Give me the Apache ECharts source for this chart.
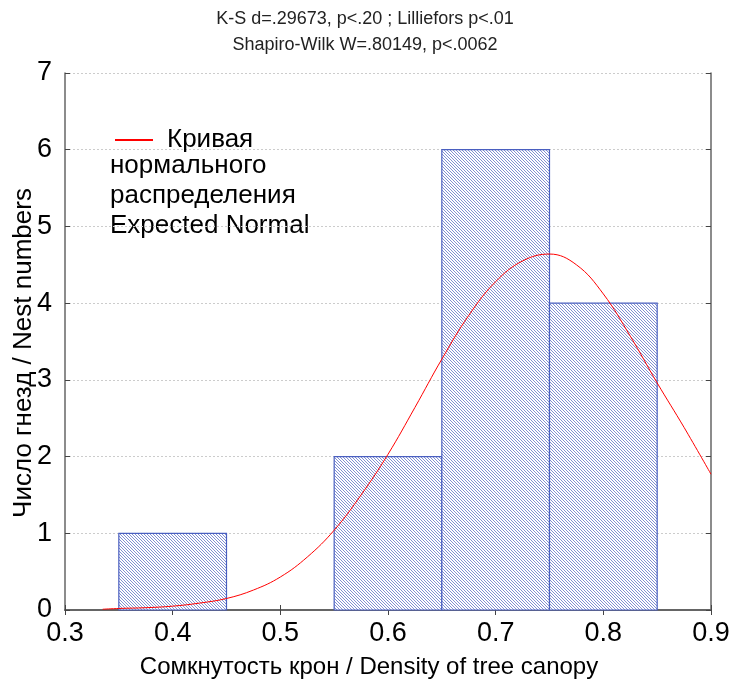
<!DOCTYPE html>
<html>
<head>
<meta charset="utf-8">
<script src="https://cdn.jsdelivr.net/npm/echarts@6/dist/echarts.min.js"></script>
<style>
  html, body { margin: 0; padding: 0; background: #fff; }
  #chart { width: 730px; height: 686px; }
</style>
</head>
<body>
<div id="chart"></div>
<script>
// гистограмма: начало интервала, конец, число гнезд
var binStart = [0.35, 0.55, 0.65, 0.75];
var binEnd = [0.45, 0.65, 0.75, 0.85];
var binCount = [1, 2, 6, 4];

// кривая нормального распределения
var curveX = [0.335, 0.35, 0.375, 0.4, 0.425, 0.45, 0.475, 0.5, 0.525, 0.55, 0.575, 0.6,
  0.625, 0.65, 0.675, 0.7, 0.725, 0.75, 0.775, 0.8, 0.825, 0.85, 0.875, 0.9];
var curveY = [0.01, 0.02, 0.03, 0.05, 0.09, 0.15, 0.26, 0.43, 0.69, 1.04, 1.50, 2.03,
  2.64, 3.27, 3.84, 4.28, 4.55, 4.64, 4.50, 4.12, 3.57, 2.96, 2.38, 1.77];

var xTicks = [0.3, 0.4, 0.5, 0.6, 0.7, 0.8, 0.9];
var yTicks = [0, 1, 2, 3, 4, 5, 6, 7];

var FONT = "Liberation Sans";

// штриховка столбцов
var hatch = document.createElement("canvas");
hatch.width = 3;
hatch.height = 3;
var hctx = hatch.getContext("2d");
hctx.fillStyle = "#ffffff";
hctx.fillRect(0, 0, 3, 3);
hctx.fillStyle = "#8290d2";
for (var i = 0; i < 3; i++) {
  hctx.fillRect(i, i, 1, 1);
}

var bins = binStart.map(function (s, i) {
  return [s, binEnd[i], binCount[i]];
});
var curve = curveX.map(function (x, i) {
  return [x, curveY[i]];
});

var myChart = echarts.init(document.getElementById("chart"));
var option = {
  animation: false,
  title: {
    text: "K-S d=.29673, p<.20 ; Lilliefors p<.01\nShapiro-Wilk W=.80149, p<.0062",
    left: "center",
    top: 1,
    textStyle: {
      fontFamily: FONT,
      fontSize: 18,
      fontWeight: "normal",
      color: "#222",
      lineHeight: 26
    }
  },
  grid: { left: 65, right: 19, top: 73, bottom: 76, containLabel: false, outerBoundsMode: "none" },
  legend: {
    left: 110,
    top: 122,
    itemWidth: 38,
    itemHeight: 2,
    itemGap: 0,
    data: [{ name: "Кривая", icon: "rect" }],
    textStyle: { fontFamily: FONT, fontSize: 26, color: "#000", padding: [0, 0, 0, 9] }
  },
  graphic: [
    {
      type: "text",
      left: 110,
      top: 151,
      style: {
        text: "нормального\nраспределения\nExpected Normal",
        font: "26px " + FONT,
        fill: "#000",
        lineHeight: 30
      }
    },
    {
      // подпись оси Y
      type: "text",
      x: 24,
      y: 353,
      rotation: Math.PI / 2,
      style: {
        text: "Число гнезд / Nest numbers",
        font: "26px " + FONT,
        fill: "#000",
        align: "center",
        verticalAlign: "middle"
      }
    }
  ],
  xAxis: [
    {
      type: "value",
      min: 0.3,
      max: 0.9,
      interval: 0.1,
      name: "Сомкнутость крон / Density of tree canopy",
      nameLocation: "middle",
      nameGap: 45,
      nameTextStyle: { fontFamily: FONT, fontSize: 24, color: "#000", padding: [0, 38, 0, 0] },
      axisLine: { show: true, lineStyle: { color: "#666", width: 2 } },
      axisTick: { show: true, inside: true, length: 5, lineStyle: { color: "#444" } },
      axisLabel: {
        fontFamily: FONT,
        fontSize: 27,
        color: "#000",
        margin: 10,
        formatter: function (v) { return v.toFixed(1); }
      },
      splitLine: { show: false }
    },
    {
      type: "value",
      position: "top",
      min: 0.3,
      max: 0.9,
      interval: 0.1,
      axisLine: { show: true, lineStyle: { color: "#666", width: 1.5 } },
      axisTick: { show: true, inside: true, length: 5, lineStyle: { color: "#444" } },
      axisLabel: { show: false },
      splitLine: { show: false }
    }
  ],
  yAxis: [
    {
      type: "value",
      min: 0,
      max: 7,
      interval: 1,
      axisLine: { show: true, lineStyle: { color: "#666", width: 1.5 } },
      axisTick: { show: true, inside: true, length: 5, lineStyle: { color: "#444" } },
      axisLabel: { fontFamily: FONT, fontSize: 27, color: "#000", margin: 13 },
      splitLine: { show: true, lineStyle: { color: "#cccccc", type: [2, 2], width: 1 } }
    },
    {
      type: "value",
      position: "right",
      min: 0,
      max: 7,
      interval: 1,
      axisLine: { show: true, lineStyle: { color: "#666", width: 1.5 } },
      axisTick: { show: true, inside: true, length: 5, lineStyle: { color: "#444" } },
      axisLabel: { show: false },
      splitLine: { show: false }
    }
  ],
  series: [
    {
      name: "bins",
      type: "custom",
      xAxisIndex: 0,
      yAxisIndex: 0,
      data: bins,
      z: 2,
      renderItem: function (params, api) {
        var p0 = api.coord([api.value(0), api.value(2)]);
        var p1 = api.coord([api.value(1), 0]);
        return {
          type: "rect",
          shape: { x: p0[0], y: p0[1], width: p1[0] - p0[0], height: p1[1] - p0[1] },
          style: {
            fill: { image: hatch, repeat: "repeat" },
            stroke: "#4a5fc0",
            lineWidth: 1.2
          }
        };
      }
    },
    {
      name: "Кривая",
      type: "line",
      xAxisIndex: 0,
      yAxisIndex: 0,
      data: curve,
      smooth: 0.4,
      showSymbol: false,
      z: 3,
      lineStyle: { color: "#ff0000", width: 1 },
      itemStyle: { color: "#ff0000" }
    }
  ]
};
myChart.setOption(option);
</script>
</body>
</html>
